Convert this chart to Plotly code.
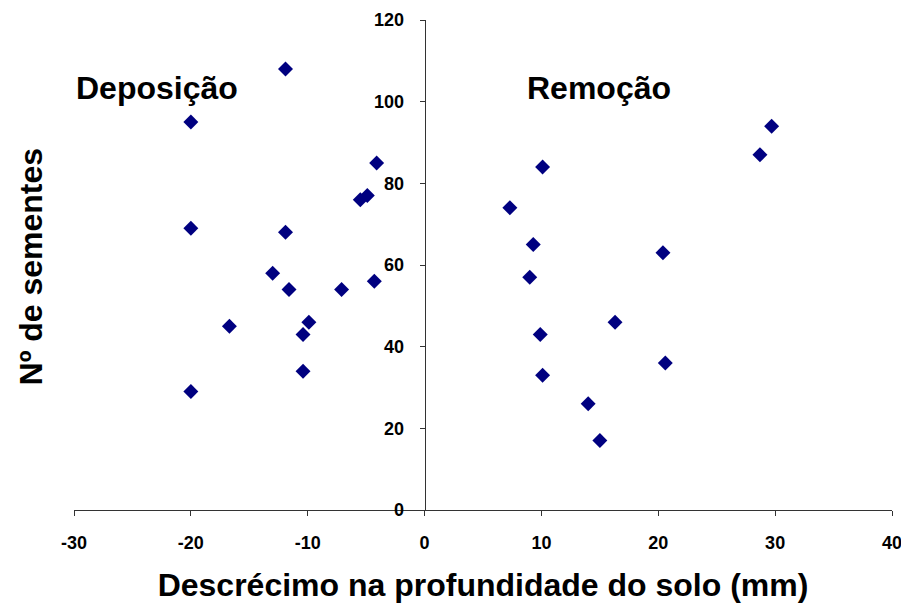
import plotly.graph_objects as go

# Deposição (negative soil depth decrease)
dep_x = [-11.9, -20.0, -4.1, -5.5, -4.9, -20.0, -11.9, -13.0, -11.6, -7.1, -4.3, -16.7, -9.9, -10.4, -10.4, -20.0]
dep_y = [108, 95, 85, 76, 77, 69, 68, 58, 54, 54, 56, 45, 46, 43, 34, 29]

# Remoção (positive soil depth decrease)
rem_x = [29.7, 28.7, 10.1, 7.3, 9.3, 9.0, 20.4, 16.3, 9.9, 20.6, 10.1, 14.0, 15.0]
rem_y = [94, 87, 84, 74, 65, 57, 63, 46, 43, 36, 33, 26, 17]

x_range = [-30, 40]
y_range = [0, 120]
x_ticks = [-30, -20, -10, 0, 10, 20, 30, 40]
x_tick_text = ["-30", "-20", "-10", "0", "10", "20", "30", "40"]
y_ticks = [0, 20, 40, 60, 80, 100, 120]
y_tick_text = ["0", "20", "40", "60", "80", "100", "120"]

labels = ["Deposição", "Remoção"]
label_x = [-22.9, 14.9]
label_y = [103.3, 103.3]

x_title = "Descrécimo na profundidade do solo (mm)"
y_title = "Nº de sementes"

FONT = "Liberation Sans, Arial, sans-serif"

fig = go.Figure()
fig.add_trace(go.Scatter(x=dep_x + rem_x, y=dep_y + rem_y, mode="markers",
                         marker=dict(symbol="diamond", size=11.5, color="#000080"),
                         showlegend=False, hoverinfo="x+y"))

for t, lx, ly in zip(labels, label_x, label_y):
    fig.add_annotation(x=lx, y=ly, text=f"<b>{t}</b>", showarrow=False,
                       font=dict(family=FONT, size=32, color="black"))

fig.add_annotation(xref="paper", yref="paper", x=-0.052, y=0.498, xanchor="center", yanchor="middle",
                   text=f"<b>{y_title}</b>", textangle=-90, showarrow=False,
                   font=dict(family=FONT, size=32, color="black"))

y_pos = (0 - x_range[0]) / (x_range[1] - x_range[0])

fig.update_layout(
    width=901, height=604,
    margin=dict(l=66, r=17, t=12, b=102, autoexpand=False),
    paper_bgcolor="white", plot_bgcolor="white",
    font=dict(family=FONT, color="black"),
    xaxis=dict(range=x_range, tickvals=x_ticks, ticktext=x_tick_text, showgrid=False, zeroline=False,
               automargin=False,
               showline=True, linecolor="#333333", linewidth=1,
               ticks="outside", ticklen=5, tickcolor="#333333",
               tickfont=dict(family=FONT, size=18, color="black", weight="bold"),
               ticklabelstandoff=11,
               title=dict(text=f"<b>{x_title}</b>", font=dict(family=FONT, size=32, color="black"),
                          standoff=22)),
    yaxis=dict(range=y_range, tickvals=y_ticks, ticktext=y_tick_text, showgrid=False, zeroline=False,
               automargin=False,
               anchor="free", position=y_pos,
               showline=True, linecolor="#333333", linewidth=1,
               ticks="outside", ticklen=5, tickcolor="#333333",
               tickfont=dict(family=FONT, size=18, color="black", weight="bold"),
               ticklabelstandoff=12),
)

fig.write_html("out.html")
